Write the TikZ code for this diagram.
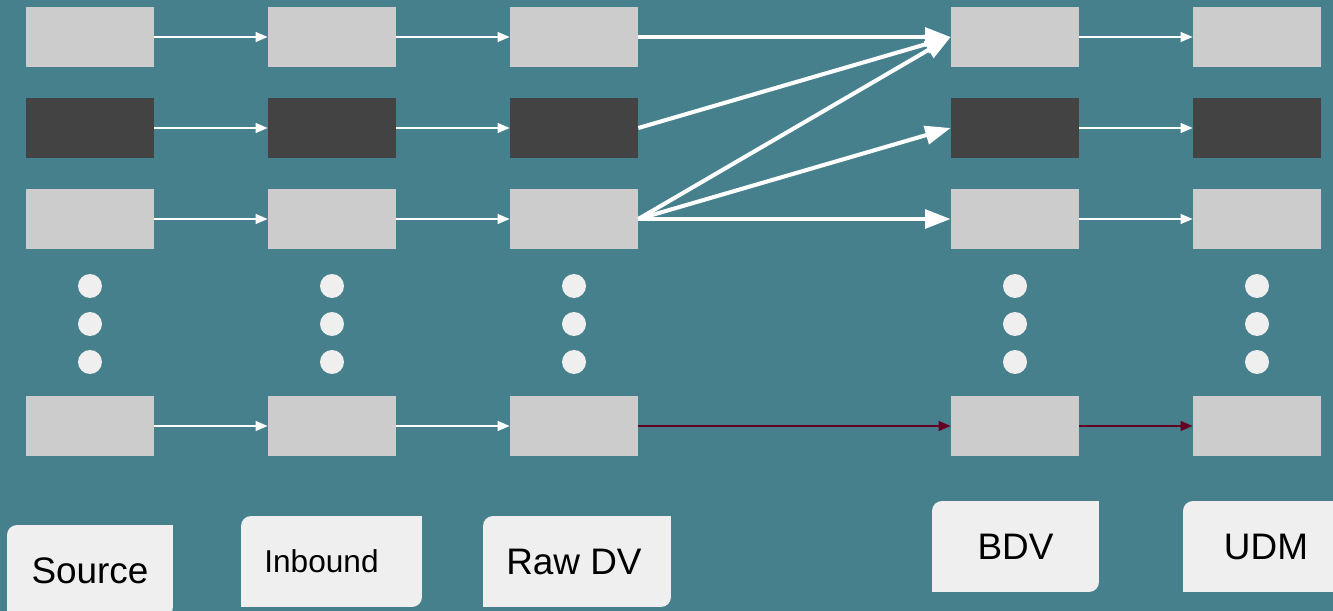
\documentclass[tikz,border=0pt]{standalone}
\usepackage{fontspec}
\setmainfont{Liberation Sans}
\usetikzlibrary{arrows.meta}
\definecolor{bg}{RGB}{71,128,141}
\definecolor{boxlight}{RGB}{204,204,204}
\definecolor{boxdark}{RGB}{67,67,67}
\definecolor{paper}{RGB}{239,239,239}
\definecolor{darkred}{RGB}{102,0,34}
\begin{document}
\begin{tikzpicture}[x=0.02cm,y=-0.02cm,
  cell/.style={fill=boxlight,minimum width=2.56cm,minimum height=1.2cm,inner sep=0pt},
  thinarrow/.style={draw=white,line width=1.1pt,-{Triangle[length=6.8pt,width=5.5pt]}},
  bigarrow/.style={draw=white,line width=2.3pt,-{Triangle[length=14.5pt,width=10.5pt]}},
  redarrow/.style={draw=darkred,line width=1.1pt,-{Triangle[length=6.8pt,width=5.5pt]}},
  lbl/.style={fill=paper,rounded corners=0.2cm,inner sep=0pt,minimum height=1.82cm}]
\useasboundingbox (0,0) rectangle (1333,611);
\clip (0,0) rectangle (1333,611);
\fill[bg] (0,0) rectangle (1333,611);
% columns of cells and dots
\foreach \c/\x in {src/90,inb/332,raw/574,bdv/1015,udm/1257} {
  \foreach \r/\y in {1/37,3/219,4/426}
    \node[cell] (\c\r) at (\x,\y) {};
  \node[cell,fill=boxdark] (\c2) at (\x,128) {};
  \foreach \d in {286,324,362}
    \fill[paper] (\x,\d) circle (0.24cm);
}
% thin arrows
\foreach \r in {1,...,4} {
  \draw[thinarrow] (src\r) -- (inb\r);
  \draw[thinarrow] (inb\r) -- (raw\r);
}
\foreach \r in {1,2,3}
  \draw[thinarrow] (bdv\r) -- (udm\r);
% raw DV to BDV
\draw[bigarrow] (raw1.east) -- (bdv1.west);
\draw[bigarrow] (raw2.east) -- (bdv1.west);
\draw[bigarrow] (raw3.east) -- (bdv1.west);
\draw[bigarrow] (raw3.east) -- (bdv2.west);
\draw[bigarrow] (raw3.east) -- (bdv3.west);
\draw[redarrow] (raw4) -- (bdv4);
\draw[redarrow] (bdv4) -- (udm4);
% labels
\node[lbl,minimum width=3.32cm,minimum height=1.84cm,font=\fontsize{21}{25}\selectfont] (lsrc) at (90,571) {Source};
\node[lbl,minimum width=3.62cm,font=\fontsize{18}{22}\selectfont] (linb) at (331.5,561.5) {Inbound\kern0.4cm};
\node[lbl,minimum width=3.76cm,font=\fontsize{21}{25}\selectfont] (lraw) at (577,561.5) {Raw DV\kern0.12cm};
\node[lbl,minimum width=3.34cm,font=\fontsize{21}{25}\selectfont] (lbdv) at (1015.5,546.5) {BDV};
\node[lbl,minimum width=3.32cm,font=\fontsize{21}{25}\selectfont] (ludm) at (1266,546.5) {UDM};
\foreach \n in {lsrc,linb,lraw,lbdv,ludm} {
  \fill[paper] (\n.north east) rectangle ++(-12,12);
  \fill[paper] (\n.south west) rectangle ++(12,-12);
}
\end{tikzpicture}
\end{document}
